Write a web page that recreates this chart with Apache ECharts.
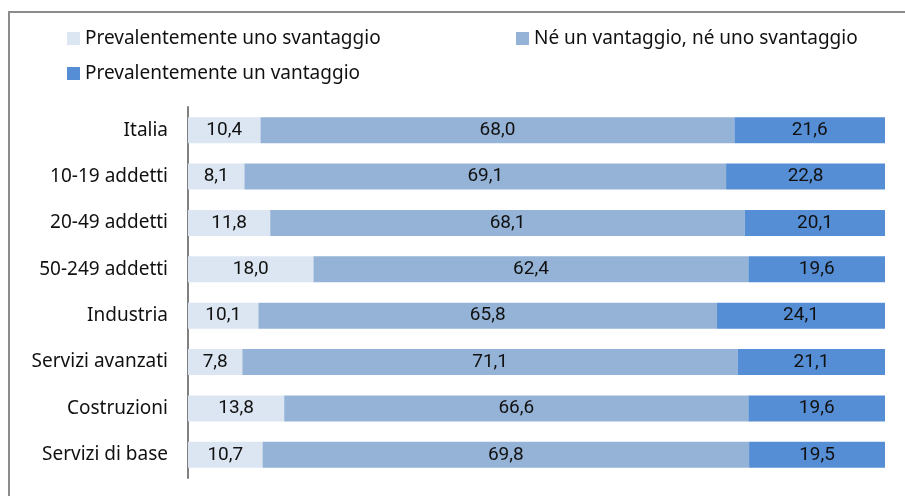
<!DOCTYPE html>
<html><head><meta charset="utf-8">
<script src="https://cdn.jsdelivr.net/npm/echarts@6/dist/echarts.min.js"></script>
<style>html,body{margin:0;padding:0;background:#fff}#c{width:905px;height:496px}</style>
</head><body><div id="c"></div>
<script>
const categories = ['Italia','10-19 addetti','20-49 addetti','50-249 addetti','Industria','Servizi avanzati','Costruzioni','Servizi di base'];
const svantaggio = [10.4, 8.1, 11.8, 18.0, 10.1, 7.8, 13.8, 10.7];
const neutro = [68.0, 69.1, 68.1, 62.4, 65.8, 71.1, 66.6, 69.8];
const vantaggio = [21.6, 22.8, 20.1, 19.6, 24.1, 21.1, 19.6, 19.5];
const seriesNames = ['Prevalentemente uno svantaggio','Né un vantaggio, né uno svantaggio','Prevalentemente un vantaggio'];
const colors = ['#DCE6F2','#95B3D7','#558ED5'];
const FONT = 'Noto Sans, sans-serif';
const chart = echarts.init(document.getElementById('c'));
function mk(i, data){
  return {name: seriesNames[i], type:'bar', stack:'s', data: data, barWidth: 26,
    itemStyle:{color: colors[i]},
    label:{show:true, position:'inside', color:'#111', fontSize:19, fontFamily: 'Roboto, sans-serif',
      formatter: p => p.value.toFixed(1).replace('.', ',')}};
}
function lg(i, left, top){
  return {data:[seriesNames[i]], left:left, top:top, itemWidth:13, itemHeight:13, itemGap:0,
    icon:'rect', textStyle:{fontSize:19, color:'#111', fontFamily: FONT, padding:[0,0,0,0]}};
}
chart.setOption({
  animation:false,
  color: colors,
  legend:[lg(0, 62, 24), lg(1, 511, 24), lg(2, 62, 59)],
  grid:{left:188, right:20, top:107, bottom:18},
  xAxis:{type:'value', min:0, max:100, show:false},
  yAxis:{type:'category', data: categories, inverse:true,
    axisLine:{show:true, lineStyle:{color:'#808080', width:2}},
    axisTick:{show:false},
    axisLabel:{fontSize:19, color:'#111', fontFamily: FONT, margin:20}},
  series:[mk(0, svantaggio), mk(1, neutro), mk(2, vantaggio)],
  graphic:[{type:'polyline', shape:{points:[[9,496],[9,12],[905,12]]}, style:{stroke:'#8c8c8c', lineWidth:2, fill:null}}]
});
</script></body></html>
